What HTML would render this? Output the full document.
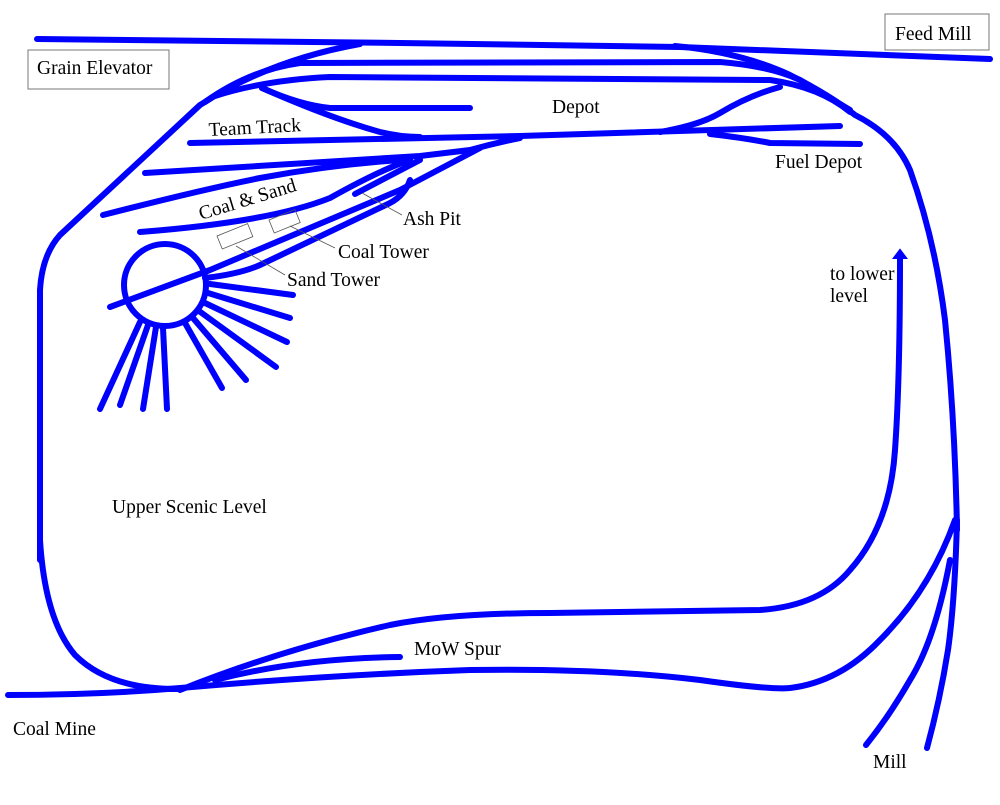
<!DOCTYPE html>
<html><head><style>
html,body{margin:0;padding:0;background:#fff;}
svg{display:block;}
text{font-family:"Liberation Serif",serif;font-size:19.5px;fill:#000;}
</style></head><body>
<svg width="1000" height="805" viewBox="0 0 1000 805">
<g fill="none" stroke="#0000ff" stroke-width="6" stroke-linecap="round" stroke-linejoin="round">
<path d="M37,39 L400,43 L680,47 L990,59"/>
<path d="M40,560 L40,290 Q42,255 60,235 L200,105 Q270,60 360,44"/>
<path d="M205,102 Q250,70 300,63 L720,62 Q770,66 800,80 L850,110"/>
<path d="M215,96 Q265,80 330,77 L770,80 Q820,87 850,112"/>
<path d="M675,46 Q740,52 790,75 Q830,95 855,115 Q895,135 910,170 Q935,240 945,320 Q955,420 957,530"/>
<path d="M262,88 Q300,105 330,108 L470,108"/>
<path d="M262,88 Q330,118 380,132 Q400,137 420,137"/>
<path d="M190,143 L520,136 L840,126"/>
<path d="M660,132 Q700,125 720,113 Q750,95 780,87"/>
<path d="M710,134 Q745,138 770,143 L860,144"/>
<path d="M145,173 L420,156 L470,150 Q495,143 520,138"/>
<path d="M103,215 Q200,190 260,178 Q330,165 400,160"/>
<path d="M140,232 Q270,222 330,198 Q380,170 410,160"/>
<path d="M355,194 L420,160"/>
<path d="M110,307 L210,270 L400,190 L480,148"/>
<path d="M205,278 Q240,274 260,265 L390,203 Q405,195 410,180"/>
<circle cx="165" cy="285" r="41"/>
<path d="M210,284 L293,295"/>
<path d="M208,293 L290,318"/>
<path d="M205,303 L287,342"/>
<path d="M199,311 L276,367"/>
<path d="M193,318 L246,380"/>
<path d="M185,323 L222,388"/>
<path d="M140,322 L100,409"/>
<path d="M148,325 L120,405"/>
<path d="M156,327 L143,409"/>
<path d="M163,328 L167,409"/>
<path d="M40,540 Q45,620 75,655 Q110,690 180,689"/>
<path d="M8,695 Q100,695 180,688 Q330,675 470,670 Q600,668 700,680 Q770,690 790,688 Q840,682 880,640 Q930,590 955,520"/>
<path d="M180,690 Q280,650 390,625 Q450,613 550,613 L760,610 Q820,606 850,570 Q890,525 895,450 Q900,380 900,258"/>
<path d="M215,680 Q300,658 400,657"/>
<path d="M957,520 Q955,600 948,650 Q940,700 927,748"/>
<path d="M950,560 Q935,640 910,680 Q890,715 866,745"/>
</g>
<path d="M894,258 L900,250 L906,258 Z" fill="#0000ff" stroke="#0000ff" stroke-width="2"/>
<rect x="28" y="50" width="141" height="39" fill="none" stroke="#777" stroke-width="1"/>
<rect x="885" y="14" width="104" height="36" fill="none" stroke="#777" stroke-width="1"/>
<g fill="none" stroke="#555" stroke-width="0.8">
<rect x="0" y="0" width="33" height="14" transform="translate(217,236) rotate(-22)"/>
<rect x="0" y="0" width="28" height="14" transform="translate(269,220) rotate(-22)"/>
<path d="M236,246 L285,275"/>
<path d="M290,226 L335,248"/>
<path d="M362,193 L402,215"/>
</g>
<text x="37" y="74">Grain Elevator</text>
<text x="895" y="40">Feed Mill</text>
<text x="552" y="113">Depot</text>
<text x="209" y="136" transform="rotate(-3 209 136)">Team Track</text>
<text x="775" y="168">Fuel Depot</text>
<text x="201" y="220" transform="rotate(-17 201 220)">Coal &amp; Sand</text>
<text x="403" y="225">Ash Pit</text>
<text x="338" y="258">Coal Tower</text>
<text x="287" y="286">Sand Tower</text>
<text x="830" y="280">to lower</text>
<text x="830" y="302">level</text>
<text x="112" y="513">Upper Scenic Level</text>
<text x="414" y="655">MoW Spur</text>
<text x="13" y="735">Coal Mine</text>
<text x="873" y="768">Mill</text>
</svg>
</body></html>
